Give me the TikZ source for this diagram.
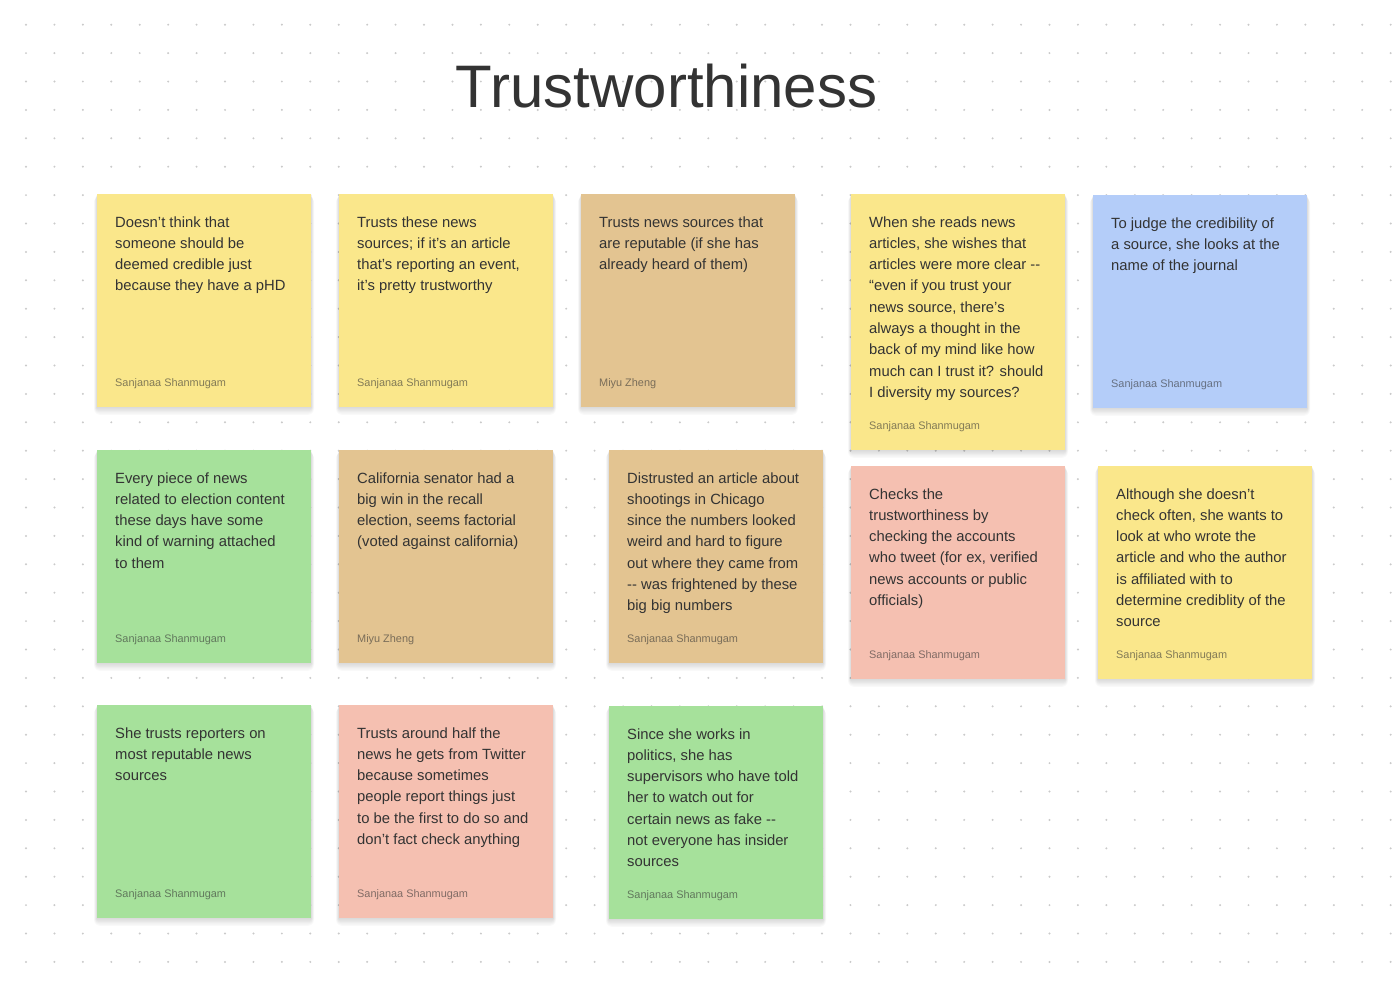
\documentclass[tikz,border=0pt]{standalone}
\usepackage{fontspec}
\setmainfont{Liberation Sans}
\usetikzlibrary{calc}

\definecolor{ink}{HTML}{333333}
\definecolor{dotc}{HTML}{CACACA}
\definecolor{nyellow}{HTML}{FAE78B}
\definecolor{ntan}{HTML}{E3C491}
\definecolor{ngreen}{HTML}{A6E19B}
\definecolor{npink}{HTML}{F5C0B1}
\definecolor{nblue}{HTML}{B4CDF9}

\tikzset{
  note/.style={rectangle, draw=none, inner sep=0, minimum width=214,
    anchor=north west},
  softshadow/.style={fill=black, opacity=0.022},
  body/.style={anchor=base west, inner sep=0, text=ink,
    font=\fontsize{14.8}{21.3}\selectfont},
  author/.style={anchor=base west, inner sep=0, text=ink, text opacity=0.6,
    font=\fontsize{10.9}{13}\selectfont},
  heading/.style={anchor=base, inner sep=0, text=ink,
    font=\fontsize{60}{60}\selectfont},
}

% sticky note: name, left, top, height, colour, text, author
\newcommand\stickynote[7]{%
  \foreach \s in {1,...,6}
    \fill[softshadow, rounded corners=\s]
      (#2-\s*0.5, #3+\s*0.4) rectangle (#2+214+\s*0.5, #3+#4+\s*1.3);
  \node[note, fill=#5, minimum height=#4] (#1) at (#2,#3) {};
  \node[body] (#1-t) at ($(#1.north west)+(18,33)$)
    {\begin{tabular}[t]{@{}l@{}}#6\end{tabular}};
  \node[author] (#1-a) at ($(#1.south west)+(18,-21)$) {#7};
}

\begin{document}
\begin{tikzpicture}[x=1pt,y=-1pt]
  \fill[white] (0,0) rectangle (1394,986);
  \useasboundingbox (0,0) rectangle (1394,986);

  % dotted canvas
  \foreach \i in {0,...,48}
    \foreach \j in {0,...,33}
      \fill[dotc] (26+28.43*\i, 24.7+28.4*\j) circle (1.1);

  \node[heading] (title) at (666.5,107) {Trustworthiness};

  % row 1
  \stickynote{n1}{97}{194}{213}{nyellow}
    {Doesn’t think that\\someone should be\\deemed credible just\\because they have a pHD}
    {Sanjanaa Shanmugam}
  \stickynote{n2}{339}{194}{213}{nyellow}
    {Trusts these news\\sources; if it’s an article\\that’s reporting an event,\\it’s pretty trustworthy}
    {Sanjanaa Shanmugam}
  \stickynote{n3}{581}{194}{213}{ntan}
    {Trusts news sources that\\are reputable (if she has\\already heard of them)}
    {Miyu Zheng}
  \stickynote{n4}{851}{194}{256}{nyellow}
    {When she reads news\\articles, she wishes that\\articles were more clear -\kern0pt-\\“even if you trust your\\news source, there’s\\always a thought in the\\back of my mind like how\\much can I trust it? should\\I diversity my sources?}
    {Sanjanaa Shanmugam}
  \stickynote{n5}{1093}{195}{213}{nblue}
    {To judge the credibility of\\a source, she looks at the\\name of the journal}
    {Sanjanaa Shanmugam}

  % row 2
  \stickynote{n6}{97}{450}{213}{ngreen}
    {Every piece of news\\related to election content\\these days have some\\kind of warning attached\\to them}
    {Sanjanaa Shanmugam}
  \stickynote{n7}{339}{450}{213}{ntan}
    {California senator had a\\big win in the recall\\election, seems factorial\\(voted against california)}
    {Miyu Zheng}
  \stickynote{n8}{609}{450}{213}{ntan}
    {Distrusted an article about\\shootings in Chicago\\since the numbers looked\\weird and hard to figure\\out where they came from\\-\kern0pt- was frightened by these\\big big numbers}
    {Sanjanaa Shanmugam}
  \stickynote{n9}{851}{466}{213}{npink}
    {Checks the\\trustworthiness by\\checking the accounts\\who tweet (for ex, verified\\news accounts or public\\officials)}
    {Sanjanaa Shanmugam}
  \stickynote{n10}{1098}{466}{213}{nyellow}
    {Although she doesn’t\\check often, she wants to\\look at who wrote the\\article and who the author\\is affiliated with to\\determine crediblity of the\\source}
    {Sanjanaa Shanmugam}

  % row 3
  \stickynote{n11}{97}{705}{213}{ngreen}
    {She trusts reporters on\\most reputable news\\sources}
    {Sanjanaa Shanmugam}
  \stickynote{n12}{339}{705}{213}{npink}
    {Trusts around half the\\news he gets from Twitter\\because sometimes\\people report things just\\to be the first to do so and\\don’t fact check anything}
    {Sanjanaa Shanmugam}
  \stickynote{n13}{609}{706}{213}{ngreen}
    {Since she works in\\politics, she has\\supervisors who have told\\her to watch out for\\certain news as fake -\kern0pt-\\not everyone has insider\\sources}
    {Sanjanaa Shanmugam}
\end{tikzpicture}
\end{document}
